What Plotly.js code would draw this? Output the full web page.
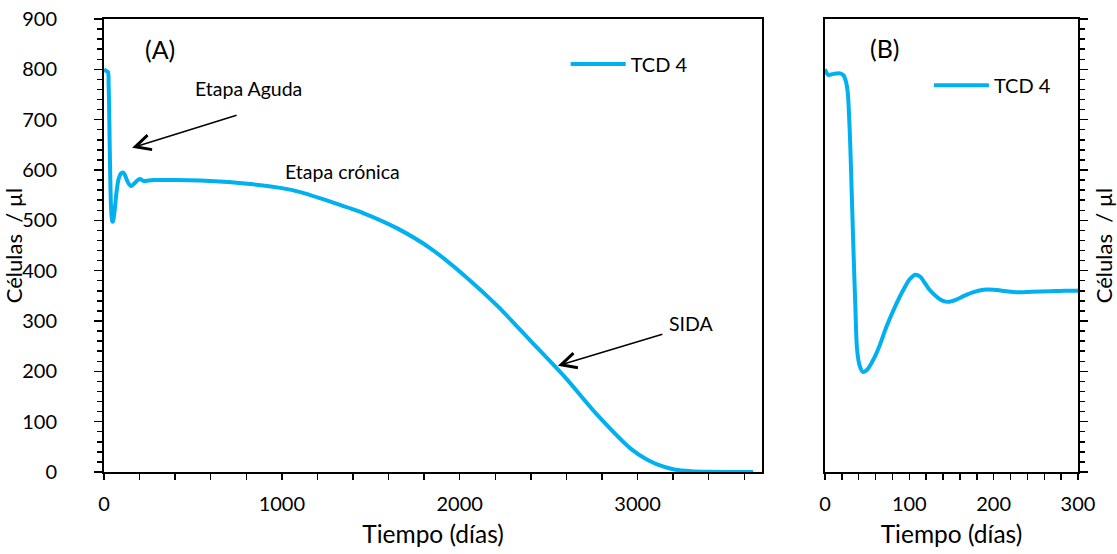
<!DOCTYPE html>
<html>
<head>
<meta charset="utf-8">
<script src="https://cdn.plot.ly/plotly-3.0.1.min.js"></script>
<style>html,body{margin:0;padding:0;background:#fff;}#chart{width:1117px;height:554px;}</style>
</head>
<body>
<div id="chart"></div>
<script>
// Panel A: full course (days, cells/µl)
const daysA = [0, 10, 22, 26, 29, 32, 35, 38, 42, 46, 49, 53, 60, 70, 82, 95, 109, 120, 135, 152, 170, 190, 203, 218, 231, 250, 280, 400, 541, 700, 823, 1000, 1104, 1273, 1461, 1649, 1837, 2024, 2212, 2400, 2588, 2775, 2963, 3057, 3151, 3207, 3300, 3400, 3650];
const cellsA = [800, 797, 795, 770, 720, 650, 590, 540, 510, 499, 497, 502, 520, 555, 582, 593, 595, 588, 575, 568, 573, 580, 582, 579, 578, 579, 580, 580, 579, 576, 572, 564, 556, 537, 514, 484, 444, 391, 330, 260, 190, 113, 46, 24, 10, 5, 1.5, 0.3, 0];
// Panel B: first 300 days
const daysB = [0, 4, 10, 18, 22, 25, 27, 28, 30, 32, 34, 36, 38, 41, 45, 50, 57, 65, 73, 83, 93, 100, 107, 113, 119, 125, 134, 140, 146, 155, 165, 175, 188, 200, 215, 227, 245, 267, 285, 300];
const cellsB = [800, 789, 791, 792, 788, 775, 755, 730, 650, 540, 430, 330, 245, 212, 199, 203, 222, 252, 289, 328, 362, 382, 392, 388, 374, 360, 346, 340, 338, 342, 350, 357, 362, 362, 359, 357, 358, 359, 360, 360];
const seriesName = 'TCD 4';
const xTitle = 'Tiempo (días)';
const yTitle = 'Células\u00a0 / µl';

const blue = '#00B0F0';
const F = 'Lato, "Open Sans", sans-serif';

const traces = [
  {x: daysA, y: cellsA, type: 'scatter', mode: 'lines', name: seriesName,
   line: {color: blue, width: 4, shape: 'spline', smoothing: 0.8}, xaxis: 'x', yaxis: 'y', legend: 'legend'},
  {x: daysB, y: cellsB, type: 'scatter', mode: 'lines', name: seriesName,
   line: {color: blue, width: 4, shape: 'spline', smoothing: 0.8}, xaxis: 'x2', yaxis: 'y2', legend: 'legend2'}
];

const axBase = {
  showgrid: false, zeroline: false, showline: true, linecolor: '#000', linewidth: 2,
  mirror: true, ticks: 'outside', tickcolor: '#000', tickwidth: 1.5,
  tickfont: {family: F, size: 20, color: '#000'}, automargin: false
};

const layout = {
  width: 1117, height: 554,
  margin: {l: 104, r: 39, t: 19, b: 82},
  paper_bgcolor: '#fff', plot_bgcolor: '#fff',
  font: {family: F, color: '#000'},
  xaxis: Object.assign({}, axBase, {
    domain: [0, 0.6756], range: [0, 3700], dtick: 1000, tick0: 0, ticklen: 6,
    minor: {dtick: 200, tick0: 0, ticks: 'outside', ticklen: 6, tickcolor: '#000', tickwidth: 1.5},
    ticklabelstandoff: 7,
    title: {text: xTitle, font: {family: F, size: 24.5, color: '#000'}, standoff: 12}
  }),
  yaxis: Object.assign({}, axBase, {
    domain: [0, 1], range: [0, 900], dtick: 100, ticklen: 8,
    minor: {dtick: 20, ticks: 'outside', ticklen: 5, tickcolor: '#000', tickwidth: 1.5},
    ticklabelstandoff: 33,
    title: {text: yTitle, font: {family: F, size: 22, color: '#000'}, standoff: 3}
  }),
  xaxis2: Object.assign({}, axBase, {
    anchor: 'y2', domain: [0.7402, 1], range: [0, 300], dtick: 100, tick0: 0, ticklen: 6,
    minor: {dtick: 20, tick0: 0, ticks: 'outside', ticklen: 6, tickcolor: '#000', tickwidth: 1.5},
    ticklabelstandoff: 7,
    title: {text: xTitle, font: {family: F, size: 24.5, color: '#000'}, standoff: 12}
  }),
  yaxis2: Object.assign({}, axBase, {
    anchor: 'x2', side: 'right', domain: [0, 1], range: [0, 900], dtick: 100, ticklen: 8,
    showticklabels: false,
    minor: {dtick: 20, ticks: 'outside', ticklen: 5, tickcolor: '#000', tickwidth: 1.5},
    title: {text: yTitle, font: {family: F, size: 22, color: '#000'}, standoff: 14}
  }),
  legend: {x: 0.474, y: 0.9007, xanchor: 'left', yanchor: 'middle', bgcolor: 'rgba(0,0,0,0)',
           font: {family: F, size: 20, color: '#000'}, itemwidth: 55},
  legend2: {x: 0.8469, y: 0.854, xanchor: 'left', yanchor: 'middle', bgcolor: 'rgba(0,0,0,0)',
           font: {family: F, size: 20, color: '#000'}, itemwidth: 55},
  annotations: [
    {xref: 'x', yref: 'y', x: 315, y: 840, text: '(A)', showarrow: false, font: {family: F, size: 25}},
    {xref: 'x2', yref: 'y2', x: 71, y: 842, text: '(B)', showarrow: false, font: {family: F, size: 25}},
    {xref: 'x', yref: 'y', x: 811, y: 761, text: 'Etapa Aguda', showarrow: false, font: {family: F, size: 19.5}},
    {xref: 'x', yref: 'y', x: 1341, y: 598, text: 'Etapa crónica', showarrow: false, font: {family: F, size: 19.5}},
    {xref: 'x', yref: 'y', x: 3301, y: 296, text: 'SIDA', showarrow: false, font: {family: F, size: 19.5}},
    {xref: 'x', yref: 'y', x: 158, y: 644, ax: 106, ay: -33, text: '', showarrow: true,
     arrowhead: 5, arrowsize: 2, arrowwidth: 1.5, arrowcolor: '#000', standoff: 0},
    {xref: 'x', yref: 'y', x: 2552, y: 211, ax: 106, ay: -32, text: '', showarrow: true,
     arrowhead: 5, arrowsize: 2, arrowwidth: 1.5, arrowcolor: '#000', standoff: 0}
  ],
  showlegend: true
};

Plotly.newPlot('chart', traces, layout, {displayModeBar: false, staticPlot: true});
</script>
</body>
</html>
